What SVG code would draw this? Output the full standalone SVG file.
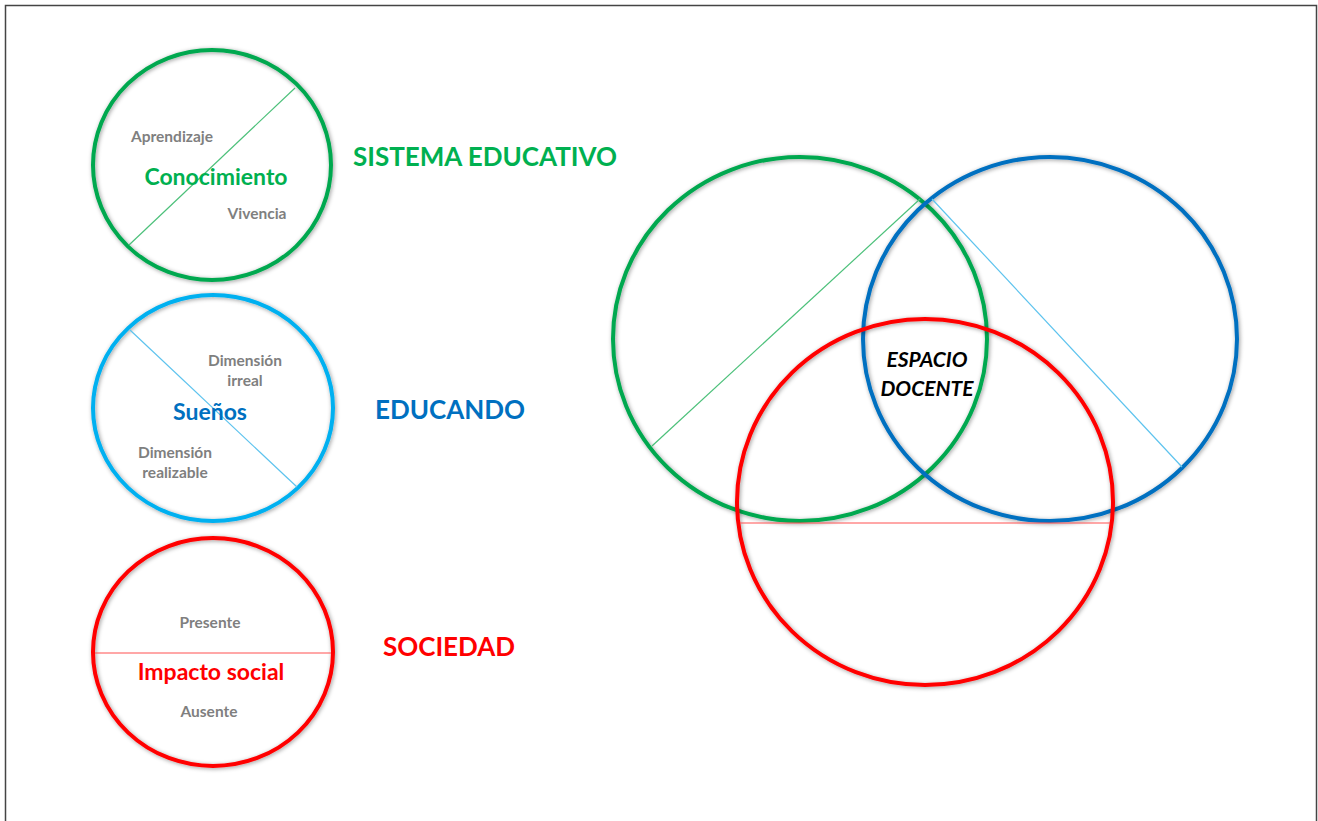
<svg xmlns="http://www.w3.org/2000/svg" width="1318" height="821" viewBox="0 0 1318 821">
<style>
.ring{fill:none;stroke-width:4;filter:url(#sh)}
.g{stroke:#00A84F}.b{stroke:#00B0F0}.r{stroke:#FF0000}.db{stroke:#0070C0}
.div{stroke-width:1.2;fill:none}
text{font-family:Lato,"Open Sans",sans-serif;font-weight:bold;text-anchor:middle}
.sub{font-size:15.5px;fill:#7F7F7F}
.main{font-size:23px}
.title{font-size:26px}
.esp{font-size:21px;font-style:italic;fill:#000}
</style>
<defs>
<filter id="sh" x="-10%" y="-10%" width="120%" height="120%">
<feDropShadow dx="1" dy="1" stdDeviation="2" flood-color="#000" flood-opacity="0.4"/>
</filter>
</defs>
<rect x="0" y="0" width="1318" height="821" fill="#fff"/>
<path d="M5.5 821V5.5H1316.5V821" fill="none" stroke="#444" stroke-width="1.5"/>

<g id="conocimiento">
<ellipse class="ring g" cx="212" cy="165" rx="119" ry="115"/>
<line class="div" x1="295" y1="88" x2="129" y2="245" stroke="#4CC07A"/>
<text class="sub" x="172" y="142">Aprendizaje</text>
<text class="main" x="216" y="185" fill="#00B050">Conocimiento</text>
<text class="sub" x="257" y="219">Vivencia</text>
</g>

<g id="suenos">
<ellipse class="ring b" cx="213" cy="408" rx="120" ry="113"/>
<line class="div" x1="130" y1="330" x2="297" y2="487" stroke="#5DC3EE"/>
<text class="sub" x="245" y="366">Dimensión</text>
<text class="sub" x="245" y="386">irreal</text>
<text class="main" x="210" y="420" fill="#0070C0">Sueños</text>
<text class="sub" x="175" y="458">Dimensión</text>
<text class="sub" x="175" y="478">realizable</text>
</g>

<g id="impacto">
<ellipse class="ring r" cx="213" cy="652" rx="120" ry="114"/>
<line class="div" x1="95" y1="653" x2="331" y2="653" stroke="#FF5050"/>
<text class="sub" x="210" y="628">Presente</text>
<text class="main" x="211" y="680" fill="#FF0000">Impacto social</text>
<text class="sub" x="209" y="717">Ausente</text>
</g>

<g id="labels">
<text class="title" x="485" y="166" fill="#00B050">SISTEMA EDUCATIVO</text>
<text class="title" x="450" y="419" fill="#0070C0">EDUCANDO</text>
<text class="title" x="449" y="656" fill="#FF0000">SOCIEDAD</text>
</g>

<g id="venn-sistema">
<ellipse class="ring g" cx="800" cy="339" rx="187" ry="182"/>
<line class="div" x1="920" y1="199" x2="652" y2="446" stroke="#4CC07A"/>
</g>
<g id="venn-educando">
<ellipse class="ring db" cx="1050" cy="339" rx="187" ry="182"/>
<line class="div" x1="932" y1="199" x2="1182" y2="467" stroke="#5DC3EE"/>
</g>
<g id="venn-sociedad">
<ellipse class="ring r" cx="925" cy="502" rx="188" ry="183"/>
<line class="div" x1="740" y1="523" x2="1110" y2="523" stroke="#FF5050"/>
</g>
<g id="espacio">
<text class="esp" x="927" y="367">ESPACIO</text>
<text class="esp" x="927" y="396">DOCENTE</text>
</g>
</svg>
